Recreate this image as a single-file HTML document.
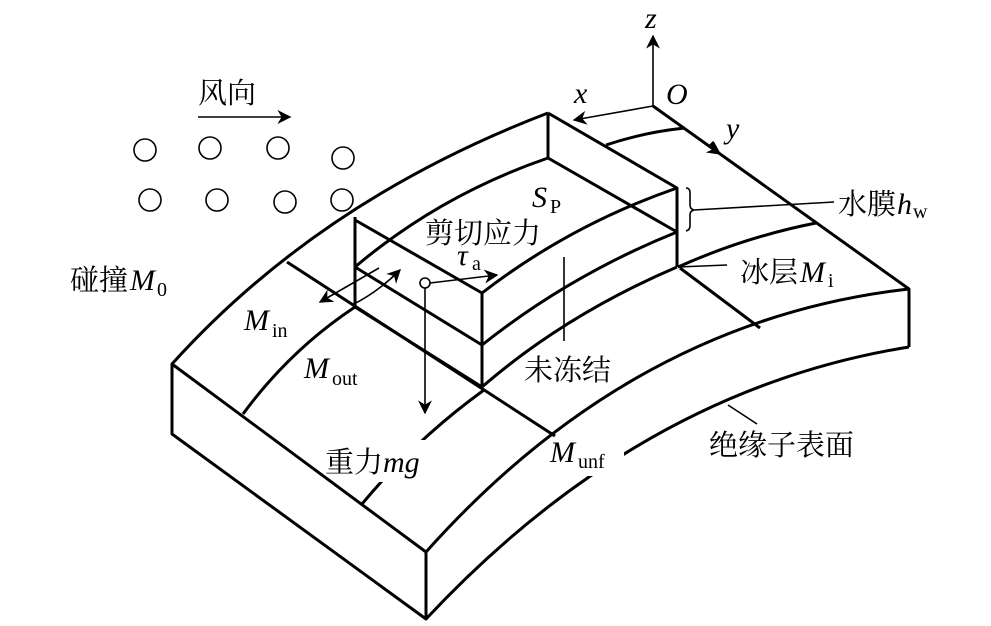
<!DOCTYPE html>
<html><head><meta charset="utf-8"><style>
html,body{margin:0;padding:0;background:#fff}
svg{display:block}
.c{font-family:"Liberation Serif","Noto Serif CJK SC","Noto Sans CJK SC",serif;font-size:29px;fill:#000}
.i{font-family:"Liberation Serif",serif;font-style:italic;font-size:30px;fill:#000}
.s{font-family:"Liberation Serif",serif;font-size:20px;fill:#000}
</style></head><body>
<svg width="991" height="626" viewBox="0 0 991 626" xmlns="http://www.w3.org/2000/svg">
<defs>
<marker id="a" viewBox="0 0 10 10" refX="9" refY="5" markerWidth="9" markerHeight="9" orient="auto-start-reverse" markerUnits="userSpaceOnUse"><path d="M0,0 L10,5 L0,10 L3,5 z" fill="#000"/></marker>
<marker id="b" viewBox="0 0 10 10" refX="9" refY="5" markerWidth="14" markerHeight="14" orient="auto-start-reverse" markerUnits="userSpaceOnUse"><path d="M0,0 L10,5 L0,10 L3,5 z" fill="#000"/></marker>
</defs>
<g fill="none" stroke="#000" stroke-width="3" stroke-linejoin="round">
<!-- slab -->
<path d="M172,364 Q320,200 548,113"/>
<path d="M172,364 L426,552 L426,619 L172,434 Z"/>
<path d="M426,552 Q633,320 909,289 L909,347"/>
<path d="M426,619 Q640,390 909,347"/>
<path d="M653,106 L909,289"/>
<path d="M287,262 L555,436"/>
<path d="M243,414 Q290,350 355,307"/>
<path d="M484,390 Q415,440 362,504"/>
<path d="M680,268 L760,328"/>
<path d="M678,267 Q745,237 816,223"/>
<path d="M606,145 Q645,132 685,128"/>
<!-- block -->
<path d="M355,217 L355,307 L482,387 L482,293 L355,220"/>
<path d="M548,113 L677,188 L677,267"/>
<path d="M548,113 L548,158 L677,232"/>
<path d="M482,293 Q570,225 677,188"/>
<path d="M355,267 Q440,195 548,158"/>
<path d="M355,267 L482,345 Q570,275 677,232"/>
<path d="M482,387 Q565,315 677,267"/>
</g>
<!-- white gaps -->
<rect x="588" y="452" width="36" height="24" fill="#fff"/>
<rect x="376" y="440" width="55" height="42" fill="#fff"/>
<g fill="none" stroke="#000" stroke-width="1.6">
<line x1="198" y1="117" x2="290" y2="117" marker-end="url(#b)"/>
<line x1="653" y1="106" x2="653" y2="36" marker-end="url(#b)"/>
<line x1="653" y1="106" x2="574" y2="120" marker-end="url(#b)"/>
<line x1="700" y1="140" x2="720" y2="154" marker-end="url(#b)" stroke-width="0"/>
<path d="M686,188 Q690,188 690,193 L690,205 Q690,209 694,210 Q690,211 690,215 L690,226 Q690,230 686,231"/>
<line x1="694" y1="210" x2="834" y2="202"/>
<line x1="678" y1="267" x2="727" y2="265"/>
<line x1="564" y1="257" x2="564" y2="341"/>
<line x1="728" y1="405" x2="757" y2="424"/>
<line x1="379" y1="268" x2="320" y2="302" marker-end="url(#b)"/>
<path d="M352,305 Q378,292 400,270" marker-end="url(#b)"/>
<circle cx="425" cy="283" r="5"/>
<line x1="430" y1="283" x2="497" y2="275" marker-end="url(#b)"/>
<line x1="425" y1="288" x2="425" y2="413" marker-end="url(#b)"/>
<circle cx="145" cy="150" r="11"/><circle cx="210" cy="148" r="11"/><circle cx="278" cy="148" r="11"/><circle cx="343" cy="158" r="11"/>
<circle cx="150" cy="200" r="11"/><circle cx="217" cy="200" r="11"/><circle cx="285" cy="202" r="11"/><circle cx="342" cy="200" r="11"/>
</g>
<path d="M708,146 L722,156 L713,141 Z" fill="#000"/>
<text class="c" x="198" y="103">风向</text>
<text class="c" x="70" y="290">碰撞</text><text class="i" x="130" y="290">M</text><text class="s" x="157" y="296">0</text>
<text class="i" x="244" y="330">M</text><text class="s" x="272" y="337">in</text>
<text class="i" x="304" y="378">M</text><text class="s" x="332" y="385">out</text>
<text class="i" x="532" y="207">S</text><text class="s" x="550" y="213">P</text>
<text class="c" x="425" y="243">剪切应力</text>
<text class="i" x="457" y="265">τ</text><text class="s" x="472" y="270">a</text>
<text class="c" x="524" y="380">未冻结</text>
<text class="c" x="325" y="472">重力</text><text class="i" x="383" y="472">mg</text>
<text class="i" x="550" y="462">M</text><text class="s" x="578" y="468">unf</text>
<text class="c" x="709" y="455">绝缘子表面</text>
<text class="c" x="740" y="282">冰层</text><text class="i" x="800" y="282">M</text><text class="s" x="828" y="287">i</text>
<text class="c" x="838" y="214">水膜</text><text class="i" x="897" y="214">h</text><text class="s" x="913" y="218">w</text>
<text class="i" x="645" y="28">z</text>
<text class="i" x="666" y="104">O</text>
<text class="i" x="574" y="103">x</text>
<text class="i" x="726" y="138">y</text>
</svg>
</body></html>
